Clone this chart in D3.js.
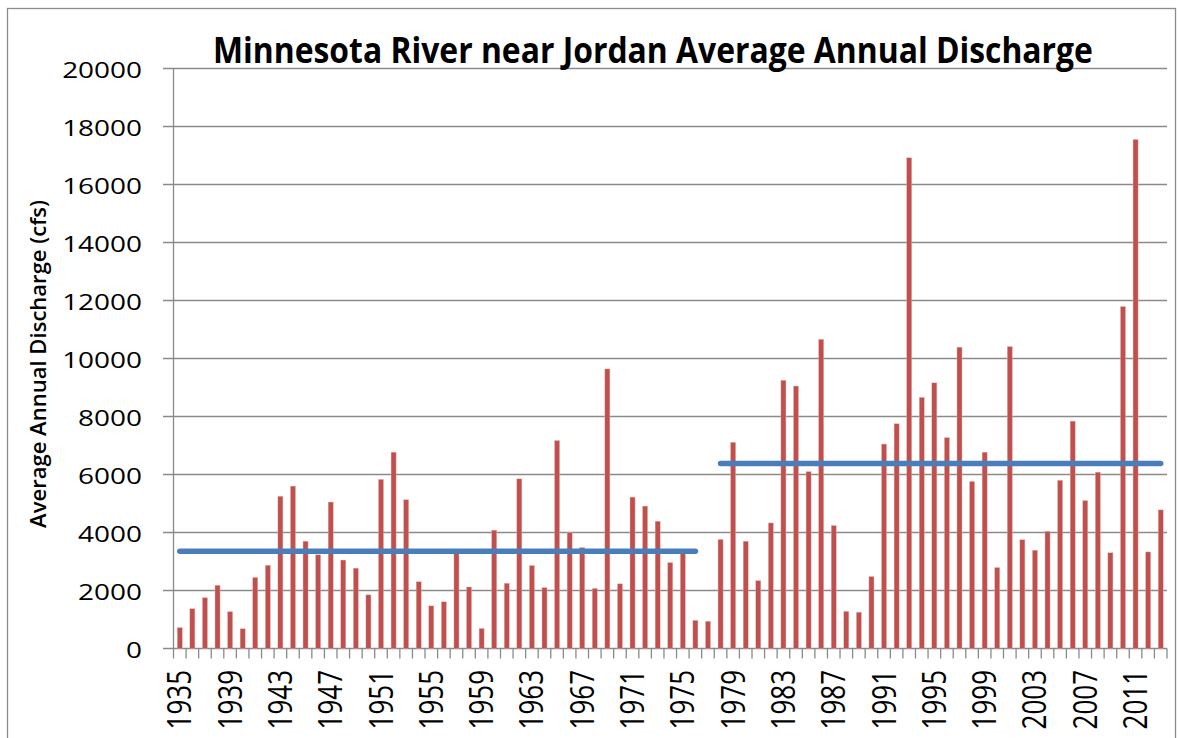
<!DOCTYPE html>
<html><head><meta charset="utf-8">
<script src="https://cdn.jsdelivr.net/npm/d3@7"></script>
<style>body{margin:0;background:#fff;overflow:hidden} text{font-family:"Open Sans",sans-serif;fill:#000}</style>
</head><body><svg id="c" width="1178" height="738"></svg>
<script>
const years = [1935,1936,1937,1938,1939,1940,1941,1942,1943,1944,1945,1946,1947,1948,1949,1950,1951,1952,1953,1954,1955,1956,1957,1958,1959,1960,1961,1962,1963,1964,1965,1966,1967,1968,1969,1970,1971,1972,1973,1974,1975,1976,1977,1978,1979,1980,1981,1982,1983,1984,1985,1986,1987,1988,1989,1990,1991,1992,1993,1994,1995,1996,1997,1998,1999,2000,2001,2002,2003,2004,2005,2006,2007,2008,2009,2010,2011,2012,2013];
const discharge = [720,1370,1750,2180,1270,680,2450,2870,5250,5600,3700,3230,5050,3050,2770,1850,5830,6770,5130,2300,1470,1610,3270,2120,690,4080,2250,5850,2860,2100,7170,4000,3480,2070,9640,2230,5220,4910,4390,2960,3280,970,940,3760,7110,3700,2340,4330,9250,9050,6100,10660,4240,1280,1250,2480,7050,7750,16920,8660,9160,7270,10390,5760,6770,2790,10410,3750,3390,4040,5800,7840,5100,6080,3300,11790,17550,3330,4780];
const yTicks = [0,2000,4000,6000,8000,10000,12000,14000,16000,18000,20000];
const xTickLabels = ["1935","1939","1943","1947","1951","1955","1959","1963","1967","1971","1975","1979","1983","1987","1991","1995","1999","2003","2007","2011"];
const periodStart = [1935, 1978];
const periodEnd = [1976, 2013];
const periodMean = [3350, 6380];
const titleText = "Minnesota River near Jordan Average Annual Discharge";
const yTitleText = "Average Annual Discharge (cfs)";

const svg = d3.select("#c");
svg.append("rect").attr("width",1178).attr("height",738).attr("fill","#fff");
svg.append("rect").attr("x",7.5).attr("y",8.5).attr("width",1168).attr("height",760)
  .attr("fill","none").attr("stroke","#8c8c8c").attr("stroke-width",1.3);

const L = 173.5, R = 1167, T = 68.5, B = 648.5;
const x = d3.scaleBand().domain(years).range([L, R]).padding(0);
const y = d3.scaleLinear().domain([0, 20000]).range([B, T]);
const bw = x.bandwidth();
const cx = v => x(v) + bw / 2;

// gridlines + y ticks
svg.append("g").selectAll("line").data(yTicks).join("line")
  .attr("x1", 163).attr("x2", R).attr("y1", d => y(d)).attr("y2", d => y(d))
  .attr("stroke", "#8a8a8a").attr("stroke-width", 1.3);
// y axis line
svg.append("line").attr("x1", L).attr("x2", L).attr("y1", T).attr("y2", B)
  .attr("stroke", "#8a8a8a").attr("stroke-width", 1.3);
// x ticks at category boundaries
const bounds = years.map(v => x(v)).concat([R]);
svg.append("g").selectAll("line").data(bounds).join("line")
  .attr("x1", d => d).attr("x2", d => d).attr("y1", B).attr("y2", B + 10)
  .attr("stroke", "#8a8a8a").attr("stroke-width", 1.3);

// bars
svg.append("g").selectAll("rect").data(years).join("rect")
  .attr("x", (d) => cx(d) - bw * 0.2)
  .attr("width", bw * 0.4)
  .attr("y", (d, i) => y(discharge[i]))
  .attr("height", (d, i) => B - y(discharge[i]))
  .attr("fill", "#C0504D").attr("stroke", "#e8b4b3").attr("stroke-width", 0.4);

// mean lines
const line = d3.line().x(d => cx(d[0])).y(d => y(d[1]));
periodMean.forEach((m, i) => {
  svg.append("path").attr("d", line([[periodStart[i], m], [periodEnd[i], m]]))
    .attr("stroke", "#4A7EBB").attr("stroke-width", 5.5).attr("stroke-linecap", "round").attr("fill", "none");
});

// y tick labels
svg.append("g").selectAll("text").data(yTicks).join("text")
  .attr("transform", d => `translate(142,${y(d) + 2}) scale(1.3,1)`)
  .attr("text-anchor", "end").attr("dy", "0.36em")
  .style("font-size", "21.5px").text(d => d);

// x tick labels
svg.append("g").selectAll("text").data(xTickLabels).join("text")
  .attr("transform", d => `translate(${cx(+d)},670) scale(1.23,1) rotate(-90)`)
  .attr("text-anchor", "end").attr("dy", "0.36em")
  .style("font-size", "26px").text(d => d);

// title
const t = svg.append("text").attr("x", 0).attr("y", 0)
  .style("font-size", "35px").style("font-weight", "bold").text(titleText);
const tw = t.node().getComputedTextLength();
t.attr("transform", `translate(213,63) scale(${880 / tw},1)`);

// y title
const yt = svg.append("text").attr("text-anchor", "middle").attr("dy", "0.36em")
  .style("font-size", "22px").style("font-weight", "600").text(yTitleText);
const yw = yt.node().getComputedTextLength();
yt.attr("transform", `translate(38,364) rotate(-90) scale(${328 / yw},1)`);
</script></body></html>
